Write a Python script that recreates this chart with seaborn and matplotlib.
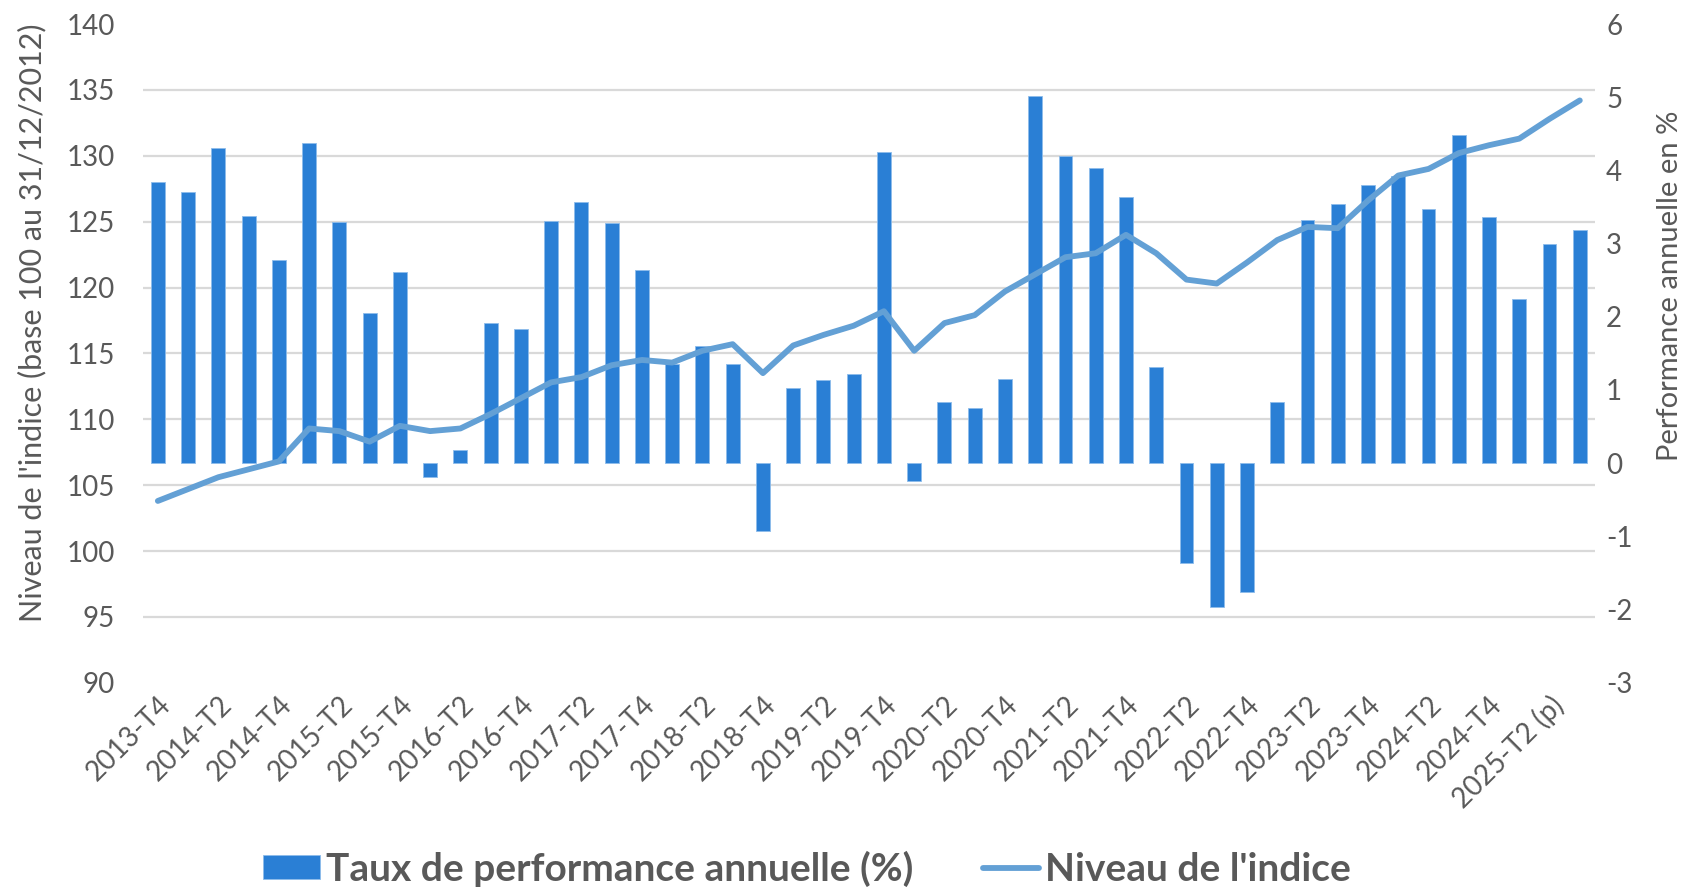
import matplotlib
matplotlib.use("Agg")
import matplotlib.pyplot as plt
import numpy as np
import pandas as pd
import seaborn as sns

quarters = [
    "2013-T4",
    "2014-T1", "2014-T2", "2014-T3", "2014-T4",
    "2015-T1", "2015-T2", "2015-T3", "2015-T4",
    "2016-T1", "2016-T2", "2016-T3", "2016-T4",
    "2017-T1", "2017-T2", "2017-T3", "2017-T4",
    "2018-T1", "2018-T2", "2018-T3", "2018-T4",
    "2019-T1", "2019-T2", "2019-T3", "2019-T4",
    "2020-T1", "2020-T2", "2020-T3", "2020-T4",
    "2021-T1", "2021-T2", "2021-T3", "2021-T4",
    "2022-T1", "2022-T2", "2022-T3", "2022-T4",
    "2023-T1", "2023-T2", "2023-T3", "2023-T4",
    "2024-T1", "2024-T2", "2024-T3", "2024-T4",
    "2025-T1", "2025-T2 (p)", "2025-T3 (p)",
]

# taux de performance annuelle (%), axe de droite
perf_rate = [
    3.84, 3.71, 4.30, 3.38, 2.78, 4.38, 3.30, 2.05, 2.61, -0.19, 0.18, 1.92,
    1.83, 3.31, 3.57, 3.28, 2.64, 1.36, 1.60, 1.36, -0.92, 1.03, 1.13, 1.22,
    4.25, -0.24, 0.83, 0.76, 1.15, 5.01, 4.20, 4.03, 3.64, 1.32, -1.36, -1.96,
    -1.76, 0.84, 3.32, 3.54, 3.80, 3.92, 3.47, 4.48, 3.36, 2.24, 2.99, 3.18,
]

# niveau de l'indice (base 100 au 31/12/2012), axe de gauche
index_level = [
    103.8, 104.7, 105.6, 106.2, 106.8, 109.3, 109.1, 108.3, 109.5, 109.1, 109.3, 110.4,
    111.6, 112.8, 113.2, 114.1, 114.5, 114.3, 115.2, 115.7, 113.5, 115.6, 116.4, 117.1,
    118.2, 115.2, 117.3, 117.9, 119.7, 121.0, 122.3, 122.6, 124.0, 122.6, 120.6, 120.3,
    121.9, 123.6, 124.6, 124.5, 126.6, 128.5, 129.0, 130.2, 130.8, 131.3, 132.8, 134.2,
]

left_ticks = [90, 95, 100, 105, 110, 115, 120, 125, 130, 135, 140]
right_ticks = [-3, -2, -1, 0, 1, 2, 3, 4, 5, 6]

BAR_COLOR = "#2A7FD5"
LINE_COLOR = "#63A0D5"
TEXT_COLOR = "#595959"
GRID_COLOR = "#D9D9D9"

sns.set_theme(style="white")
plt.rcParams["font.family"] = ["Lato", "DejaVu Sans"]
plt.rcParams["text.color"] = TEXT_COLOR
plt.rcParams["xtick.color"] = TEXT_COLOR
plt.rcParams["ytick.color"] = TEXT_COLOR
plt.rcParams["axes.labelcolor"] = TEXT_COLOR

df = pd.DataFrame({
    "quarter": quarters,
    "perf": perf_rate,
    "level": index_level,
    "pos": np.arange(len(quarters)),
})

fig = plt.figure(figsize=(16.89, 8.89), dpi=100)
ax_bar = fig.add_axes([0.0845, 0.232, 0.8598, 0.741])
ax_line = ax_bar.twinx()

sns.barplot(data=df, x="quarter", y="perf", color=BAR_COLOR, saturation=1,
            width=0.46, edgecolor="#8DBCEB", linewidth=0.6,
            label="Taux de performance annuelle (%)", ax=ax_bar, zorder=3)
sns.lineplot(data=df, x="pos", y="level", color=LINE_COLOR, linewidth=4.2,
             solid_capstyle="round", label="Niveau de l'indice", ax=ax_line)

for a in (ax_bar, ax_line):
    if a.get_legend() is not None:
        a.get_legend().remove()
    for s in a.spines.values():
        s.set_visible(False)
    a.set_xlabel("")

n = len(quarters)
ax_bar.set_xlim(-0.5, n - 0.5)

# axe droit : performance (barres)
ax_bar.set_ylim(right_ticks[0], right_ticks[-1])
ax_bar.set_yticks(right_ticks)
ax_bar.set_yticklabels([str(t) for t in right_ticks])
ax_bar.yaxis.tick_right()
ax_bar.yaxis.set_label_position("right")
ax_bar.set_ylabel("Performance annuelle en %", fontsize=21)
ax_bar.yaxis.set_label_coords(1.043, 0.603)
# quadrillage aligné sur les graduations de l'axe gauche, derrière les barres
ax_bar.set_yticks(np.linspace(right_ticks[0], right_ticks[-1], len(left_ticks)), minor=True)
ax_bar.grid(axis="y", which="minor", color=GRID_COLOR, linewidth=1.6)
ax_bar.grid(axis="y", which="major", visible=False)
ax_bar.set_axisbelow(True)
ax_bar.tick_params(axis="y", which="both", length=0, pad=8, labelsize=20)

ax_bar.set_xticks(np.arange(0, n, 2))
ax_bar.set_xticklabels(quarters[::2], rotation=45, ha="right",
                       rotation_mode="anchor", fontsize=20)
ax_bar.tick_params(axis="x", length=0, pad=6)

# axe gauche : niveau de l'indice (courbe)
ax_line.set_ylim(left_ticks[0], left_ticks[-1])
ax_line.set_yticks(left_ticks)
ax_line.yaxis.tick_left()
ax_line.yaxis.set_label_position("left")
ax_line.set_ylabel("Niveau de l'indice (base 100 au 31/12/2012)", fontsize=22)
ax_line.yaxis.set_label_coords(-0.066, 0.547)
ax_line.tick_params(axis="y", length=0, pad=20, labelsize=20)
ax_line.grid(False)

handles = [ax_bar.containers[0], ax_line.get_lines()[0]]
labels = ["Taux de performance annuelle (%)", "Niveau de l'indice"]
fig.legend(handles, labels, loc="center", bbox_to_anchor=(0.478, 0.023),
           ncol=2, frameon=False, handlelength=1.45, handleheight=0.55,
           handletextpad=0.15, columnspacing=1.8,
           prop={"size": 28, "weight": "bold"}, labelcolor=TEXT_COLOR)

fig.savefig("out.png", dpi=100)
